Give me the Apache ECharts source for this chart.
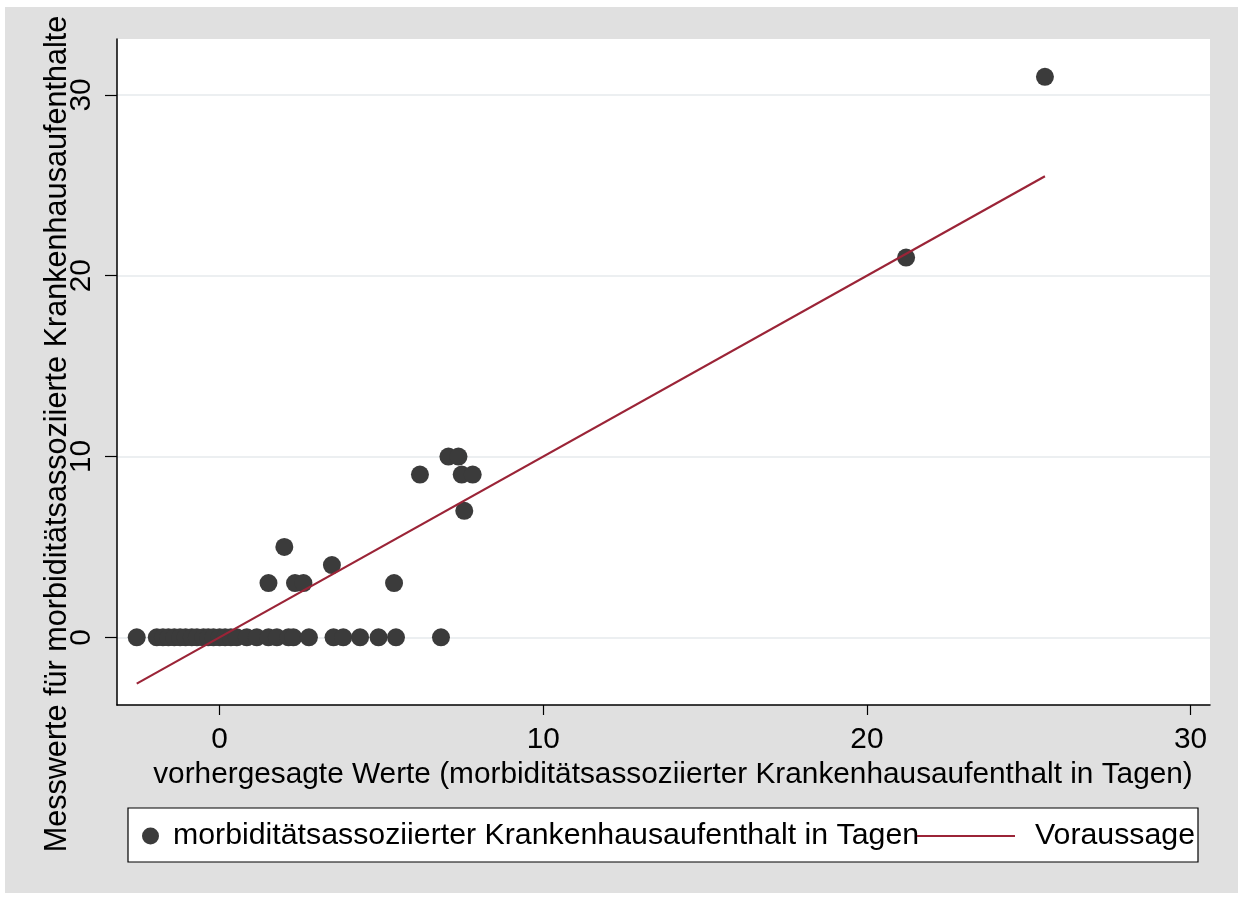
<!DOCTYPE html>
<html>
<head>
<meta charset="utf-8">
<script src="https://cdn.jsdelivr.net/npm/echarts@6/dist/echarts.min.js"></script>
<style>
  html, body { margin: 0; padding: 0; background: #ffffff; }
  #chart { position: absolute; left: 5px; top: 7px; width: 1233px; height: 886px; background: #e0e0e0; }
</style>
</head>
<body>
<div id="chart"></div>
<script>
// Observed (y) vs predicted (x) values
const obsX = [-2.56, -1.94, -1.75, -1.58, -1.40, -1.22, -1.05, -0.86, -0.70, -0.50, -0.35, -0.19, 0.00, 0.17, 0.35, 0.53, 0.84, 1.15, 1.51, 1.77, 2.13, 2.28, 2.76, 3.52, 3.82, 4.34, 4.91, 5.45, 6.84,
              1.51, 2.33, 2.59, 5.39,
              2.00, 3.47,
              6.19, 7.48, 7.82,
              7.07, 7.38,
              7.56,
              21.21, 25.50];
const obsY = [0, 0, 0, 0, 0, 0, 0, 0, 0, 0, 0, 0, 0, 0, 0, 0, 0, 0, 0, 0, 0, 0, 0, 0, 0, 0, 0, 0, 0,
              3, 3, 3, 3,
              5, 4,
              9, 9, 9,
              10, 10,
              7,
              21, 31];
// Prediction line (Voraussage)
const predX = [-2.56, 25.50];
const predY = [-2.56, 25.50];
const xTicks = [0, 10, 20, 30];
const yTicks = [0, 10, 20, 30];
const scatterName = 'morbiditätsassoziierter Krankenhausaufenthalt in Tagen';
const lineName = 'Voraussage';
const xTitle = 'vorhergesagte Werte (morbiditätsassoziierter Krankenhausaufenthalt in Tagen)';
const yTitle = 'Messwerte für morbiditätsassoziierte Krankenhausaufenthalte';

const FONT = '"Liberation Sans", Arial, Helvetica, sans-serif';
const FS = 29.8;
const FS_LEG = 30.3;
const FS_YT = 30.6;

const chart = echarts.init(document.getElementById('chart'), null, { renderer: 'canvas' });
chart.setOption({
  animation: false,
  backgroundColor: '#e0e0e0',
  textStyle: { fontFamily: FONT, color: '#000' },
  grid: {
    left: 112, right: 28, top: 32, bottom: 188,
    show: true, backgroundColor: '#ffffff', borderWidth: 0,
    containLabel: false
  },
  xAxis: {
    type: 'value',
    min: -3.17, max: 30.6,
    name: xTitle,
    nameLocation: 'middle',
    nameGap: 55,
    nameTextStyle: { fontFamily: FONT, fontSize: FS, color: '#000', padding: [0, 0, 0, 19] },
    axisLine: { show: true, onZero: false, lineStyle: { color: '#000', width: 1.5 } },
    axisTick: { show: true, length: 10, lineStyle: { color: '#000', width: 1.2 }, customValues: xTicks },
    axisLabel: { fontFamily: FONT, fontSize: FS, color: '#000', margin: 20, customValues: xTicks },
    splitLine: { show: false }
  },
  yAxis: {
    type: 'value',
    min: -3.74, max: 33.09,
    axisLine: { show: true, onZero: false, lineStyle: { color: '#000', width: 1.5 } },
    axisTick: { show: true, length: 12, lineStyle: { color: '#000', width: 1.2 }, customValues: yTicks },
    axisLabel: { fontFamily: FONT, fontSize: FS, color: '#000', margin: 20, rotate: 90, customValues: yTicks },
    splitLine: { show: true, lineStyle: { color: '#e6eaec', width: 1.5 } }
  },
  graphic: [
    {
      type: 'rect', z: 1,
      shape: { x: 123, y: 801, width: 1070, height: 54 },
      style: { fill: '#ffffff', stroke: '#000000', lineWidth: 1.2 }
    },
    {
      type: 'text', z: 5,
      x: 53, y: 427, rotation: Math.PI / 2,
      style: {
        text: yTitle, font: FS_YT + 'px ' + FONT, fill: '#000',
        textAlign: 'center', textVerticalAlign: 'middle'
      }
    }
  ],
  legend: [
    {
      z: 10, padding: 0, left: 137, top: 814, orient: 'horizontal',
      itemWidth: 35, itemHeight: 17,
      data: [{ name: scatterName, icon: 'circle' }],
      textStyle: { fontFamily: FONT, fontSize: FS_LEG, color: '#000' }
    },
    {
      z: 10, padding: 0, left: 912, top: 814, orient: 'horizontal',
      itemWidth: 98, itemHeight: 2,
      data: [{ name: lineName, icon: 'rect' }],
      itemStyle: { color: '#9b2437' },
      textStyle: { fontFamily: FONT, fontSize: FS_LEG, color: '#000', padding: [0, 0, 0, 15] }
    }
  ],
  series: [
    {
      name: scatterName,
      type: 'scatter',
      symbol: 'circle',
      symbolSize: 18,
      itemStyle: { color: '#3b3b3b', opacity: 1 },
      data: obsX.map((x, i) => [x, obsY[i]]),
      z: 2
    },
    {
      name: lineName,
      type: 'line',
      symbol: 'none',
      lineStyle: { color: '#9b2437', width: 2.2 },
      itemStyle: { color: '#9b2437' },
      data: predX.map((x, i) => [x, predY[i]]),
      z: 3
    }
  ]
});
</script>
</body>
</html>
